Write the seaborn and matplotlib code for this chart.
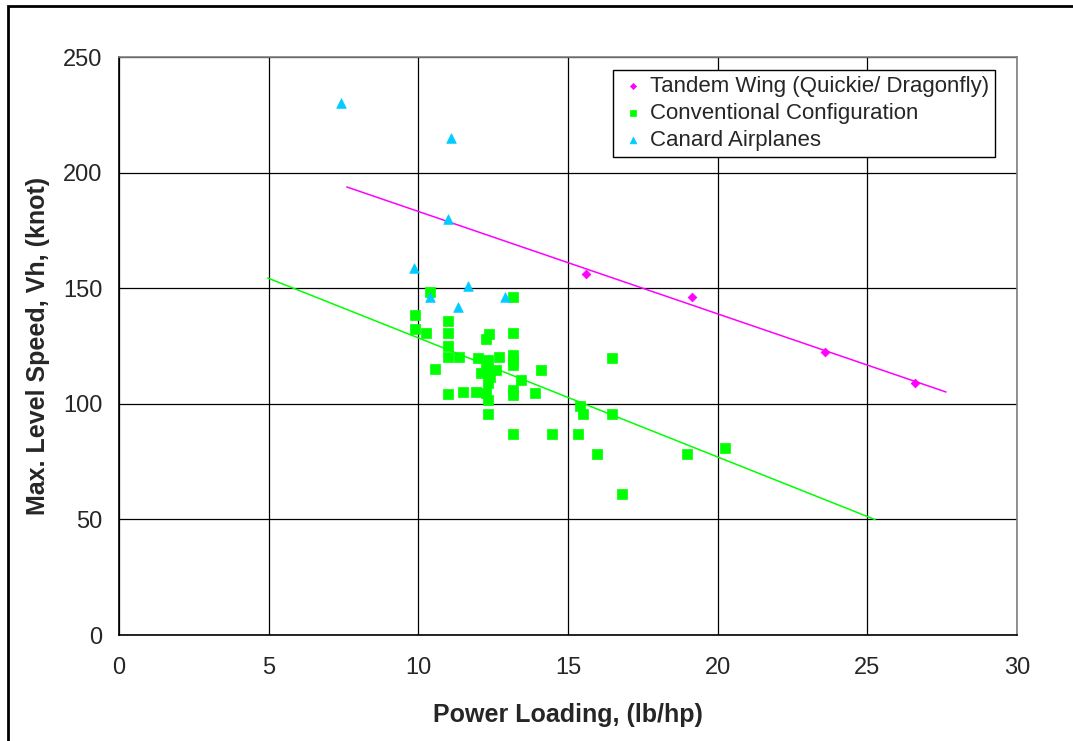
import numpy as np
import pandas as pd
import matplotlib
matplotlib.use("Agg")
import matplotlib.pyplot as plt
from matplotlib.patches import Rectangle
import seaborn as sns

# Power loading (lb/hp) vs. maximum level speed (knot)
tandem_x = [15.61, 19.15, 23.59, 26.59]
tandem_y = [156.1, 146.3, 122.4, 109.0]

conv_x = [10.40, 13.17, 9.90, 10.99, 9.90, 10.27, 10.99, 12.35, 13.17, 12.27,
          10.99, 10.99, 11.36, 11.99, 12.32, 12.71, 13.17, 13.17, 13.17, 10.57,
          12.27, 12.60, 12.10, 12.38, 12.32, 13.44, 14.09, 10.99, 11.49, 11.93,
          12.27, 12.32, 13.17, 13.17, 13.90, 12.33, 13.17, 14.48, 15.35, 16.47,
          15.41, 15.49, 16.47, 15.97, 18.96, 20.26, 16.79]
conv_y = [148.3, 146.1, 138.2, 135.8, 132.4, 130.6, 130.6, 130.3, 130.5, 128.0,
          125.1, 120.1, 120.1, 120.0, 119.1, 120.1, 121.3, 119.0, 116.9, 115.0,
          115.1, 114.8, 113.2, 111.8, 108.8, 110.1, 114.7, 104.3, 105.1, 105.1,
          104.5, 101.6, 106.0, 103.8, 104.5, 95.7, 87.0, 87.0, 87.0, 119.9,
          99.1, 95.5, 95.5, 78.3, 78.3, 80.8, 61.0]

canard_x = [7.41, 11.09, 10.99, 9.85, 11.65, 10.40, 11.32, 12.90]
canard_y = [230.0, 214.9, 179.8, 158.9, 151.0, 146.0, 141.8, 146.0]

# Linear trendlines: (slope, intercept) and the x span they cover
tandem_fit = (-4.43, 227.5)
tandem_span = [7.61, 27.63]
conv_fit = (-5.15, 180.0)
conv_span = [4.97, 25.26]

x_ticks = [0, 5, 10, 15, 20, 25, 30]
y_ticks = [0, 50, 100, 150, 200, 250]

sns.set_style("white")
plt.rcParams["font.family"] = ["Liberation Sans", "DejaVu Sans"]

fig = plt.figure(figsize=(10.73, 7.41), dpi=100)
ax = fig.add_axes([119 / 1073, 1 - 635 / 741, (1017 - 119) / 1073, (635 - 57) / 741])

MAGENTA = "#FF00FF"
GREEN = "#00FF00"
CYAN = "#00CCFF"


def trend(fit, span):
    lx = np.asarray(span, dtype=float)
    return lx, fit[0] * lx + fit[1]


tx, ty = trend(tandem_fit, tandem_span)
cx, cy = trend(conv_fit, conv_span)

sns.lineplot(x=tx, y=ty, color=MAGENTA, lw=1.1, ax=ax, zorder=3)
sns.lineplot(x=cx, y=cy, color=GREEN, lw=1.1, ax=ax, zorder=3)

sns.scatterplot(x=tandem_x, y=tandem_y, marker="D", s=20, color=MAGENTA,
                edgecolor=MAGENTA, linewidth=0.5, ax=ax, zorder=4,
                label="Tandem Wing (Quickie/ Dragonfly)")
sns.scatterplot(x=conv_x, y=conv_y, marker="s", s=44, color=GREEN,
                edgecolor=GREEN, linewidth=0.5, ax=ax, zorder=4,
                label="Conventional Configuration")
sns.scatterplot(x=canard_x, y=canard_y, marker="^", s=48, color=CYAN,
                edgecolor=CYAN, linewidth=0.5, ax=ax, zorder=4,
                label="Canard Airplanes")

ax.set_xlim(0, 30)
ax.set_ylim(0, 250)
ax.set_xticks(x_ticks)
ax.set_yticks(y_ticks)
ax.tick_params(axis="both", which="major", direction="out", length=6,
               width=1, color="black", labelsize=17)
ax.tick_params(axis="y", pad=6)
ax.tick_params(axis="x", pad=10)
ax.grid(True, color="black", lw=0.9)
ax.set_axisbelow(True)

for side in ("top", "right"):
    ax.spines[side].set_color("#808080")
    ax.spines[side].set_linewidth(1.2)
for side in ("left", "bottom"):
    ax.spines[side].set_color("black")
    ax.spines[side].set_linewidth(1.2)

ax.set_xlabel("Power Loading, (lb/hp)", fontsize=18, fontweight="bold", labelpad=17)
ax.set_ylabel("Max. Level Speed, Vh, (knot)", fontsize=18, fontweight="bold", labelpad=9)

leg = ax.legend(loc="upper right", bbox_to_anchor=(995 / 1073, 1 - 70 / 741),
                bbox_transform=fig.transFigure, fontsize=16, frameon=True,
                fancybox=False, edgecolor="black", framealpha=1,
                borderpad=0.28, labelspacing=0.26, handletextpad=0.15,
                handlelength=1.2, markerscale=0.7, borderaxespad=0)
leg.get_frame().set_linewidth(1.0)

# Outer chart border
fig.patches.append(Rectangle((8 / 1073, -0.1), 1.2, 1 - 6 / 741 + 0.1,
                             transform=fig.transFigure, fill=False,
                             edgecolor="black", lw=2, zorder=10))

fig.savefig("out.png", dpi=100)
